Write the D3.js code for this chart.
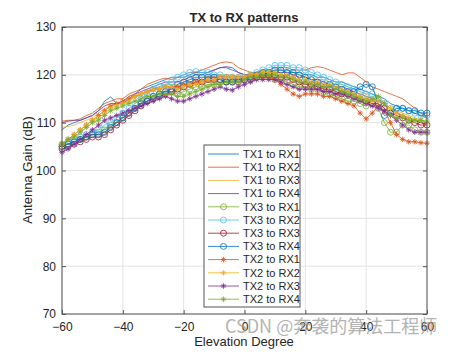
<!DOCTYPE html>
<html>
<head>
<meta charset="utf-8">
<script src="https://cdn.jsdelivr.net/npm/d3@7"></script>
<style>
body { margin: 0; background: #fff; }
svg { display: block; }
text { font-family: "Liberation Sans", Arial, sans-serif; fill: #262626; }
</style>
</head>
<body>
<svg id="chart" width="472" height="354"></svg>
<script>
// elevation samples, every 2 degrees
var elevation = d3.range(-60, 61, 2);
var xTicks = [-60, -40, -20, 0, 20, 40, 60];
var yTicks = [70, 80, 90, 100, 110, 120, 130];

var tx1rx1 = [108.5, 109.5, 110, 110.5, 111, 111.5, 112.5, 114.5, 115.4, 114,
  114, 115, 116, 117, 117.5, 118, 118.5, 119, 119.5, 119.5,
  119.5, 120, 120.5, 120.5, 120.5, 121, 121.5, 121.5, 121, 120.5,
  120, 120, 120, 120.5, 120.5, 121, 121, 121, 120.5, 120.5,
  120, 120, 119.5, 119.5, 119, 118.5, 118.5, 118, 117.5, 117,
  116.5, 116, 115.5, 115, 114, 113.5, 113, 112.5, 112, 111.5, 111];
var tx1rx2 = [110.3, 110.5, 110.5, 110.8, 111.5, 112, 113, 114, 114.5, 115,
  115, 116, 116.5, 117, 118, 118.5, 119, 119.3, 119, 119.5,
  120, 120.5, 120.5, 121, 121.5, 122, 122.5, 122.7, 122.5, 121.5,
  121, 120.5, 120.5, 121, 121, 121.5, 121.5, 121.5, 121, 121,
  121, 121.5, 121.7, 121.5, 121, 120.5, 120, 120.4, 120.4, 119.5,
  118.5, 117.5, 117, 116.5, 116, 115.5, 115, 114, 113, 112, 111];
var tx1rx3 = [109, 109.2, 109.5, 110, 110.5, 111, 112, 113, 113.5, 114,
  114, 114.5, 115.5, 116, 116.5, 117, 117.5, 118, 118, 118,
  118.5, 119, 119, 119.5, 119.5, 120, 120, 120, 120, 119.5,
  119.5, 119.5, 120, 120, 120.5, 120.5, 120.5, 120.5, 120, 120,
  119.5, 119.5, 119, 119, 118.5, 118, 118, 117.5, 117, 116.5,
  116, 115, 115, 114, 113, 112.5, 112, 111.5, 111, 110.5, 110];
var tx1rx4 = [110, 110.3, 110.5, 110.5, 111, 111.5, 112.5, 113.5, 114, 114,
  114.5, 115.5, 116, 116.5, 117, 117.5, 118, 118.5, 118.5, 118.5,
  119, 119.5, 120, 120, 120.5, 121, 121.5, 121.7, 121.5, 120.5,
  120, 120, 120, 120, 120.5, 120.5, 120.5, 120.5, 120, 119.5,
  119.5, 119, 119, 118.5, 118, 117.5, 117.5, 117, 116.5, 116,
  115.5, 115, 114.5, 114, 113, 112, 111.5, 111, 110.5, 110, 109.5];
var tx3rx1 = [105, 105.5, 106, 106.5, 107, 107.5, 108, 108.5, 109.5, 110,
  111, 112, 113, 114, 115, 115.5, 116, 116.5, 116.5, 116,
  116.5, 117, 117.5, 117.5, 118, 118, 118.5, 118.5, 119, 119,
  119, 119.5, 119.5, 119.5, 119.5, 119, 119, 118.5, 118, 117.5,
  117.5, 117, 117, 116.5, 116, 115.5, 115, 114.5, 114.5, 114,
  113.5, 114, 113, 110, 108, 108, 109.5, 109.5, 108.5, 108, 108];
var tx3rx2 = [105.5, 106, 106.5, 107, 107.5, 108, 108.5, 109.5, 110, 111,
  112, 113, 114, 115, 116, 117, 117.5, 118, 118.5, 119.5,
  120, 120.5, 120.7, 120.5, 120.5, 120, 120, 119.5, 119.5, 119.5,
  119.5, 120, 120.5, 121, 121.5, 122, 122, 122, 121.5, 121.5,
  121, 120.5, 120, 119.5, 119, 118.5, 118, 117.5, 117, 116.5,
  116, 116, 115, 114, 113, 113, 113, 112.5, 112, 111.5, 111.5];
var tx3rx3 = [104.5, 105, 105.5, 106, 106.5, 107, 107, 107.5, 108.5, 109.5,
  110.5, 111.5, 112.5, 113.5, 114.5, 115, 115.5, 116, 116.5, 117,
  117.5, 118, 118.5, 118.5, 119, 119, 119, 118.5, 118.5, 118.5,
  119, 119, 119.5, 120, 120, 120, 119.5, 119.5, 119, 118.5,
  118, 118, 117.5, 117, 117, 116.5, 116, 116, 115.5, 115,
  114.5, 114, 114, 113, 112, 111.5, 111, 110.5, 110, 109.5, 109.5];
var tx3rx4 = [105, 105.5, 106, 106.5, 107, 107.5, 107.5, 108, 109, 110,
  111, 112, 113, 114, 114.5, 115.5, 116, 116.5, 117, 118,
  118.5, 119, 119.5, 119.5, 119.5, 119.5, 119, 118.5, 118.5, 119,
  119, 119.5, 120, 120.5, 120.5, 121, 121, 120.5, 120.5, 120,
  119.5, 119, 118.5, 118, 118, 117.5, 117, 116.5, 116.5, 117.5,
  118, 117.5, 114, 111.5, 112, 113, 113, 112.5, 112.5, 112, 112];
var tx2rx1 = [105.5, 106.5, 107.5, 108.5, 109.5, 110.5, 111.5, 112.5, 113.5, 114,
  114.5, 115, 115.5, 116, 116.5, 117, 117, 117.5, 117.5, 117.5,
  118, 118, 118.5, 118.5, 119, 119, 119.5, 119.5, 119.5, 119.5,
  119.5, 120, 120, 119.5, 119.5, 119, 118, 117, 116, 115.5,
  116, 116, 116, 115.5, 115.5, 115, 114.5, 114, 113.5, 112,
  110.8, 112, 113.5, 112.5, 110, 107.5, 106.5, 106, 106, 105.8, 105.7];
var tx2rx2 = [105.5, 106.5, 107.5, 108.5, 109.5, 110.5, 111, 112, 113, 113.5,
  114, 114.5, 115.5, 116, 116.5, 117, 117, 117.5, 117.5, 117,
  117.5, 118, 118, 118.5, 119, 119, 119.5, 119.5, 119.5, 119.5,
  119.5, 120, 120, 120.5, 120.5, 120.5, 120, 120, 119.5, 119,
  119, 118.5, 118.5, 118, 118, 117.5, 117, 116.5, 116, 115.5,
  115, 114.5, 114.5, 114, 113, 112, 111.5, 111, 110.5, 110.5, 110];
var tx2rx3 = [103.8, 104.5, 105.5, 106.5, 107.5, 108.5, 109.5, 110.5, 111, 111.5,
  112, 112.5, 113, 113.5, 114, 114.5, 115, 115.5, 115, 114.5,
  114.5, 115, 115.5, 116, 116.5, 117, 117.5, 117, 116.8, 117.5,
  118, 118.5, 119, 119, 119, 119, 118.5, 118, 117.5, 117,
  117, 117, 117, 116.5, 116.5, 116, 116, 115.5, 115, 114.5,
  114, 113.5, 113, 112.5, 111.5, 110.5, 109.5, 108.5, 108, 108, 108];
var tx2rx4 = [105.5, 106.5, 107, 108, 109, 110, 110.5, 111.5, 112.5, 113,
  113.5, 114, 114.5, 115, 115.5, 115.5, 116, 116, 116, 115.5,
  115.5, 116, 116.5, 117, 117.5, 118, 118, 118.5, 118.5, 118.5,
  119, 119.5, 119.5, 120, 120, 120, 119.5, 119.5, 119, 118.5,
  118.5, 118, 118, 117.5, 117.5, 117, 116.5, 116, 115.5, 115,
  114.5, 115, 115.5, 114, 111.5, 111, 111, 110.5, 110.5, 110.5, 110.3];

var seriesNames = ['TX1 to RX1', 'TX1 to RX2', 'TX1 to RX3', 'TX1 to RX4',
  'TX3 to RX1', 'TX3 to RX2', 'TX3 to RX3', 'TX3 to RX4',
  'TX2 to RX1', 'TX2 to RX2', 'TX2 to RX3', 'TX2 to RX4'];
var seriesValues = [tx1rx1, tx1rx2, tx1rx3, tx1rx4, tx3rx1, tx3rx2, tx3rx3, tx3rx4,
  tx2rx1, tx2rx2, tx2rx3, tx2rx4];
var seriesMarkers = ['none', 'none', 'none', 'none', 'circle', 'circle', 'circle', 'circle',
  'star', 'star', 'star', 'star'];
var colors = ['#0072BD', '#D95319', '#EDB120', '#7E2F8E', '#77AC30', '#4DBEEE', '#A2142F',
  '#0072BD', '#D95319', '#EDB120', '#7E2F8E', '#77AC30'];

var margin = {left: 62, right: 427, top: 27, bottom: 314};
var svg = d3.select('#chart');

var x = d3.scaleLinear().domain([-60, 60]).range([margin.left, margin.right]);
var y = d3.scaleLinear().domain([70, 130]).range([margin.bottom, margin.top]);

// grid
var grid = svg.append('g').attr('stroke', '#e3e3e3').attr('stroke-width', 1);
grid.selectAll('.gx').data(xTicks).enter().append('line')
  .attr('x1', function(d) { return x(d); }).attr('x2', function(d) { return x(d); })
  .attr('y1', margin.top).attr('y2', margin.bottom);
grid.selectAll('.gy').data(yTicks).enter().append('line')
  .attr('y1', function(d) { return y(d); }).attr('y2', function(d) { return y(d); })
  .attr('x1', margin.left).attr('x2', margin.right);

var starPath = 'M-2.8,0H2.8M0,-2.8V2.8M-2,-2L2,2M-2,2L2,-2';
var line = d3.line()
  .x(function(d, i) { return x(elevation[i]); })
  .y(function(d) { return y(d); });

var plot = svg.append('g');
seriesValues.forEach(function(vals, k) {
  var g = plot.append('g');
  g.append('path').attr('d', line(vals))
    .attr('fill', 'none').attr('stroke', colors[k]).attr('stroke-width', 0.8);
  if (seriesMarkers[k] == 'circle') {
    g.selectAll('circle').data(vals).enter().append('circle')
      .attr('cx', function(d, i) { return x(elevation[i]); })
      .attr('cy', function(d) { return y(d); })
      .attr('r', 3).attr('fill', 'none')
      .attr('stroke', colors[k]).attr('stroke-width', 0.8);
  } else if (seriesMarkers[k] == 'star') {
    g.selectAll('path.m').data(vals).enter().append('path')
      .attr('class', 'm')
      .attr('transform', function(d, i) { return 'translate(' + x(elevation[i]) + ',' + y(d) + ')'; })
      .attr('d', starPath).attr('fill', 'none')
      .attr('stroke', colors[k]).attr('stroke-width', 0.8);
  }
});

// axes, ticks inside on all four sides
function styleAxis(g) {
  g.select('.domain').remove();
  g.selectAll('.tick line').attr('stroke', '#555');
  g.selectAll('.tick text').attr('fill', '#262626').style('font-size', '12px')
    .style('font-family', '"Liberation Sans", Arial, sans-serif');
}
svg.append('g').attr('transform', 'translate(0,' + margin.bottom + ')')
  .call(d3.axisBottom(x).tickValues(xTicks).tickSizeInner(-4).tickSizeOuter(0).tickPadding(8))
  .call(styleAxis);
svg.append('g').attr('transform', 'translate(' + margin.left + ',0)')
  .call(d3.axisLeft(y).tickValues(yTicks).tickSizeInner(-4).tickSizeOuter(0).tickPadding(6))
  .call(styleAxis);
svg.append('g').attr('transform', 'translate(0,' + margin.top + ')')
  .call(d3.axisTop(x).tickValues(xTicks).tickSizeInner(-4).tickSizeOuter(0).tickFormat(''))
  .call(styleAxis);
svg.append('g').attr('transform', 'translate(' + margin.right + ',0)')
  .call(d3.axisRight(y).tickValues(yTicks).tickSizeInner(-4).tickSizeOuter(0).tickFormat(''))
  .call(styleAxis);

svg.append('rect')
  .attr('x', margin.left).attr('y', margin.top)
  .attr('width', margin.right - margin.left).attr('height', margin.bottom - margin.top)
  .attr('fill', 'none').attr('stroke', '#555').attr('stroke-width', 1);

// titles
svg.append('text').attr('x', 244).attr('y', 22).attr('text-anchor', 'middle')
  .style('font-size', '13px').style('font-weight', 'bold').text('TX to RX patterns');
svg.append('text').attr('x', 244).attr('y', 346).attr('text-anchor', 'middle')
  .style('font-size', '13px').text('Elevation Degree');
svg.append('text').attr('transform', 'translate(32,170) rotate(-90)').attr('text-anchor', 'middle')
  .style('font-size', '13px').text('Antenna Gain (dB)');

// legend
var legend = svg.append('g');
legend.append('rect').attr('x', 204).attr('y', 145).attr('width', 96).attr('height', 162)
  .attr('fill', '#fff').attr('stroke', '#555').attr('stroke-width', 1);
seriesNames.forEach(function(name, k) {
  var cy = 154 + k * 13.2;
  legend.append('line').attr('x1', 208).attr('x2', 239).attr('y1', cy).attr('y2', cy)
    .attr('stroke', colors[k]).attr('stroke-width', 0.8);
  if (seriesMarkers[k] == 'circle') {
    legend.append('circle').attr('cx', 223.5).attr('cy', cy).attr('r', 3)
      .attr('fill', 'none').attr('stroke', colors[k]).attr('stroke-width', 0.8);
  } else if (seriesMarkers[k] == 'star') {
    legend.append('path').attr('transform', 'translate(223.5,' + cy + ')').attr('d', starPath)
      .attr('fill', 'none').attr('stroke', colors[k]).attr('stroke-width', 0.8);
  }
  legend.append('text').attr('x', 243).attr('y', cy).attr('dy', '0.35em')
    .style('font-size', '11px').text(name);
});

// watermark
svg.append('text').attr('x', 225).attr('y', 333)
  .style('font-size', '18px').style('font-family', '"Noto Sans CJK SC", sans-serif')
  .style('fill', '#9a9a9a').style('opacity', 0.75)
  .text('CSDN @奔袭的算法工程师');
</script>
</body>
</html>
